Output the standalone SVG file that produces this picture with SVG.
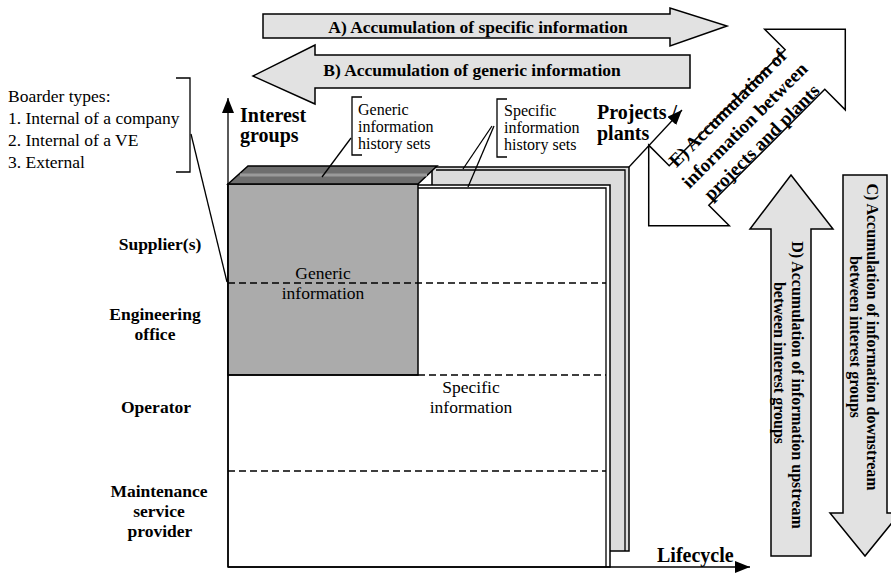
<svg xmlns="http://www.w3.org/2000/svg" width="891" height="574" viewBox="0 0 891 574">
<style>
.t{font-family:"Liberation Serif","Times New Roman",serif;fill:#000}
.b{font-weight:bold}
.r17{font-size:17.5px}
.r16{font-size:16px}
.b17{font-size:17.5px;font-weight:bold}
.b20{font-size:20px;font-weight:bold}
.ln{stroke:#000;fill:none;stroke-width:1.3}
.dash{stroke:#000;stroke-width:1.3;stroke-dasharray:7 4;fill:none}
.blk{fill:#e2e2e2;stroke:#000;stroke-width:1.5}
</style>
<defs>
<marker id="ah" markerUnits="userSpaceOnUse" markerWidth="16" markerHeight="14" refX="15" refY="6" orient="auto">
<path d="M0,0 L15,6 L0,12 z" fill="#000"/>
</marker>
</defs>

<g id="arrowA">
<polygon class="blk" points="263,14 670,14 670,8 727,26 670,46 670,38 263,38"/>
<text class="t b17" x="478" y="33" text-anchor="middle">A) Accumulation of specific information</text>
</g>
<g id="arrowB">
<polygon class="blk" points="690,55 690,88 315,88 315,104 253,76 315,45 315,55"/>
<text class="t b17" x="472" y="76" text-anchor="middle">B) Accumulation of generic information</text>
</g>

<g id="sheets">
<rect x="432" y="167" width="197" height="384" fill="#dcdcdc" stroke="#000" stroke-width="1.5"/>
<polyline class="ln" points="436,170 625,170 625,551"/>
<rect x="228" y="185" width="382" height="382" fill="#fff" stroke="#000" stroke-width="1.5"/>
<polyline class="ln" points="418,188 606,188 606,567"/>
<rect x="228" y="184" width="190" height="191" fill="#ababab" stroke="#000" stroke-width="1.5"/>
<polygon points="228,184 248,166 437,166 418,184" fill="#6e6e6e" stroke="#000" stroke-width="1.5"/>
<line x1="240" y1="175" x2="427" y2="175" stroke="#9a9a9a" stroke-width="3"/>
<line class="dash" x1="228" y1="283" x2="606" y2="283"/>
<line class="dash" x1="418" y1="375" x2="606" y2="375"/>
<line x1="228" y1="375" x2="418" y2="375" stroke="#000" stroke-width="1.3"/>
<line class="dash" x1="228" y1="471" x2="606" y2="471"/>
<text class="t r17" x="323" y="279" text-anchor="middle">Generic</text>
<text class="t r17" x="323" y="299" text-anchor="middle">information</text>
<text class="t r17" x="471" y="393" text-anchor="middle">Specific</text>
<text class="t r17" x="471" y="413" text-anchor="middle">information</text>
</g>

<g id="axes">
<line x1="228" y1="567" x2="228" y2="98" class="ln" stroke-width="1.6" marker-end="url(#ah)"/>
<line x1="228" y1="567" x2="750" y2="567" class="ln" stroke-width="1.6" marker-end="url(#ah)"/>
<line x1="629" y1="167" x2="682" y2="110" class="ln" stroke-width="1.3" marker-end="url(#ah)"/>
<text class="t b20" x="240" y="122">Interest</text>
<text class="t b20" x="240" y="142">groups</text>
<text class="t b20" x="657" y="562">Lifecycle</text>
<text class="t b20" x="597" y="119">Projects /</text>
<text class="t b20" x="597" y="140">plants</text>
</g>

<g id="groups">
<text class="t b17" x="160" y="250" text-anchor="middle">Supplier(s)</text>
<text class="t b17" x="155" y="320" text-anchor="middle">Engineering</text>
<text class="t b17" x="155" y="340" text-anchor="middle">office</text>
<text class="t b17" x="156" y="413" text-anchor="middle">Operator</text>
<text class="t b17" x="159" y="497" text-anchor="middle">Maintenance</text>
<text class="t b17" x="159" y="517" text-anchor="middle">service</text>
<text class="t b17" x="160" y="537" text-anchor="middle">provider</text>
</g>

<g id="legend">
<text class="t r17" x="8" y="102">Boarder types:</text>
<text class="t r17" x="8" y="124">1. Internal of a company</text>
<text class="t r17" x="8" y="146">2. Internal of a VE</text>
<text class="t r17" x="8" y="168">3. External</text>
<polyline class="ln" points="176,78 190,78 190,172 176,172"/>
<line class="ln" x1="191" y1="134" x2="227" y2="282"/>
</g>

<g id="genericSets">
<polyline class="ln" points="362,97 352,97 352,155 362,155"/>
<text class="t r16" x="358" y="115">Generic</text>
<text class="t r16" x="358" y="132">information</text>
<text class="t r16" x="358" y="149">history sets</text>
<line class="ln" x1="351" y1="138" x2="322" y2="177"/>
</g>

<g id="specificSets">
<polyline class="ln" points="507,99 497,99 497,157 507,157"/>
<text class="t r16" x="504" y="116">Specific</text>
<text class="t r16" x="504" y="133">information</text>
<text class="t r16" x="504" y="150">history sets</text>
<line class="ln" x1="492" y1="126" x2="463" y2="169"/>
<line class="ln" x1="494" y1="126" x2="468" y2="187"/>
</g>

<g id="arrowE" transform="translate(747,127.5) rotate(-45)">
<polygon fill="#fff" stroke="#000" stroke-width="1.5" points="-139,0 -82,-57 -82,-28 82,-28 82,-57 139,0 82,57 82,28 -82,28 -82,57"/>
<text class="t b" font-size="19" x="0" y="-21" text-anchor="middle">E) Accumulation of</text>
<text class="t b" font-size="19" x="0" y="3" text-anchor="middle">information between</text>
<text class="t b" font-size="19" x="0" y="27" text-anchor="middle">projects and plants</text>
</g>

<g id="arrowD">
<polygon class="blk" points="771,556 771,229 750,229 791,175 833,229 811,229 811,556"/>
<text class="t b" font-size="16" transform="translate(792,385) rotate(90)" text-anchor="middle">D) Accumulation of information upstream</text>
<text class="t b" font-size="16" transform="translate(774,363) rotate(90)" text-anchor="middle">between interest groups</text>
</g>

<g id="arrowC">
<polygon class="blk" points="843,175 887,175 887,513 900,513 865,556 830,513 843,513"/>
<text class="t b" font-size="16" transform="translate(867,337) rotate(90)" text-anchor="middle">C) Accumulation of information downstream</text>
<text class="t b" font-size="16" transform="translate(850,337) rotate(90)" text-anchor="middle">between interest groups</text>
</g>
</svg>
